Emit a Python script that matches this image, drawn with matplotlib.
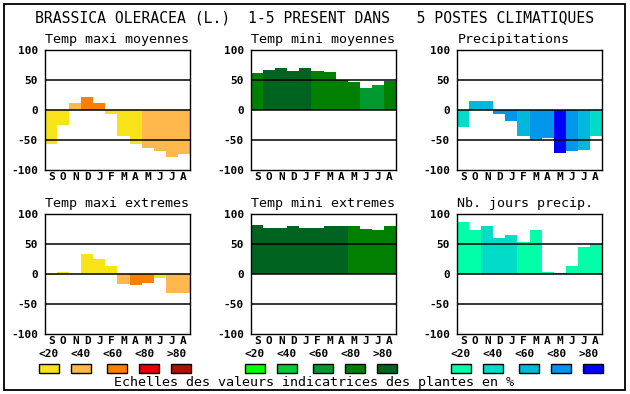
import matplotlib
matplotlib.use("Agg")
import matplotlib.pyplot as plt
from matplotlib.patches import Rectangle

W, H = 630, 394

title = "BRASSICA OLERACEA (L.)  1-5 PRESENT DANS   5 POSTES CLIMATIQUES"
footer = "Echelles des valeurs indicatrices des plantes en %"
months = ['S', 'O', 'N', 'D', 'J', 'F', 'M', 'A', 'M', 'J', 'J', 'A']
yticks = [-100, -50, 0, 50, 100]
legend_labels = ['<20', '<40', '<60', '<80', '>80']

temp_colors = ['#F8E218', '#FFB84C', '#FF8000', '#E80000', '#B01000']
green_colors = ['#00FF00', '#00CC33', '#009A30', '#007F00', '#006420']
blue_colors = ['#00FFA8', '#00DCC8', '#00B8DC', '#0096EC', '#0000FF']

tmax_moy = [-56, -25, 12, 22, 12, -6, -44, -56, -63, -68, -78, -73]
tmax_moy_cls = [0, 0, 1, 2, 2, 0, 0, 0, 1, 1, 1, 1]
tmin_moy = [62, 67, 70, 65, 70, 65, 64, 51, 47, 37, 42, 49]
tmin_moy_cls = [3, 4, 4, 4, 4, 3, 3, 3, 3, 2, 2, 3]
precip = [-28, 15, 15, -6, -18, -44, -50, -46, -71, -68, -66, -43]
precip_cls = [1, 2, 2, 3, 3, 2, 3, 3, 4, 3, 2, 1]
tmax_ext = [-2, 4, 0, 34, 26, 14, -16, -18, -14, -7, -31, -31]
tmax_ext_cls = [0, 0, 0, 0, 0, 0, 1, 2, 2, 0, 1, 1]
tmin_ext = [82, 77, 77, 80.5, 77, 77, 80.5, 80.5, 80.5, 75.5, 74, 80.5]
tmin_ext_cls = [4, 4, 4, 4, 4, 4, 4, 4, 3, 3, 3, 3]
njours = [87, 74, 80.5, 60.5, 65.5, 54, 74, 4, 2, 14, 45.5, 50.5]
njours_cls = [0, 0, 1, 1, 1, 0, 0, 0, 0, 0, 0, 0]

panels = [
    ("Temp maxi moyennes", tmax_moy, tmax_moy_cls, temp_colors),
    ("Temp mini moyennes", tmin_moy, tmin_moy_cls, green_colors),
    ("Precipitations", precip, precip_cls, blue_colors),
    ("Temp maxi extremes", tmax_ext, tmax_ext_cls, temp_colors),
    ("Temp mini extremes", tmin_ext, tmin_ext_cls, green_colors),
    ("Nb. jours precip.", njours, njours_cls, blue_colors),
]

MONO = "DejaVu Sans Mono"
fig = plt.figure(figsize=(W / 100, H / 100), dpi=100)


def fx(x):
    return x / W


def fy(y):
    return 1 - y / H


# outer border
fig.add_artist(Rectangle((fx(4), fy(390)), fx(621), 386 / H, transform=fig.transFigure,
                         fill=False, edgecolor='black', linewidth=1.3))

fig.text(fx(315), fy(18), title, ha='center', va='center', family=MONO, fontsize=10.6)

col_left = [45.3, 251.3, 457.3]
row_top = [50.3, 214.3]
pw, ph = 144.4, 119.7

for i, (name, vals, cls, cols) in enumerate(panels):
    r, c = divmod(i, 3)
    x0, y0 = col_left[c], row_top[r]
    ax = fig.add_axes([fx(x0), fy(y0 + ph), pw / W, ph / H])
    xs = list(range(len(months)))
    ax.bar(xs, vals, width=1.0, align='edge', color=[cols[k] for k in cls],
           linewidth=0, zorder=1)
    for yv in (-50, 0, 50):
        ax.axhline(yv, color='black', linewidth=1.1, zorder=3)
    ax.set_xlim(0, 12)
    ax.set_ylim(-100, 100)
    ax.set_xticks([x + 0.5 for x in xs])
    ax.set_xticklabels(months, family=MONO, fontweight='bold', fontsize=8)
    ax.set_yticks(yticks)
    ax.set_yticklabels([str(v) for v in yticks], family=MONO, fontweight='bold', fontsize=8)
    ax.tick_params(length=0, pad=5.2)
    ax.tick_params(axis='x', pad=1.5)
    for s in ax.spines.values():
        s.set_linewidth(1.0)
        s.set_zorder(4)
    fig.text(fx(x0), fy(y0 - 11), name, ha='left', va='center', family=MONO, fontsize=9.6)

# legends
box_off = [-6, 26, 62, 94, 126]
lab_off = [3.7, 35.7, 67.7, 99.7, 131.7]
for c, cols in enumerate([temp_colors, green_colors, blue_colors]):
    x0 = col_left[c]
    for k in range(5):
        fig.text(fx(x0 + lab_off[k]), fy(354), legend_labels[k], ha='center', va='center',
                 family=MONO, fontweight='bold', fontsize=8)
        fig.add_artist(Rectangle((fx(x0 + box_off[k]), fy(373.3)), 20 / W, 9.3 / H,
                                 transform=fig.transFigure, facecolor=cols[k],
                                 edgecolor='black', linewidth=1.0))

fig.text(fx(314.5), fy(382.3), footer, ha='center', va='center', family=MONO, fontsize=9.6)

fig.savefig("out.png", dpi=100)
